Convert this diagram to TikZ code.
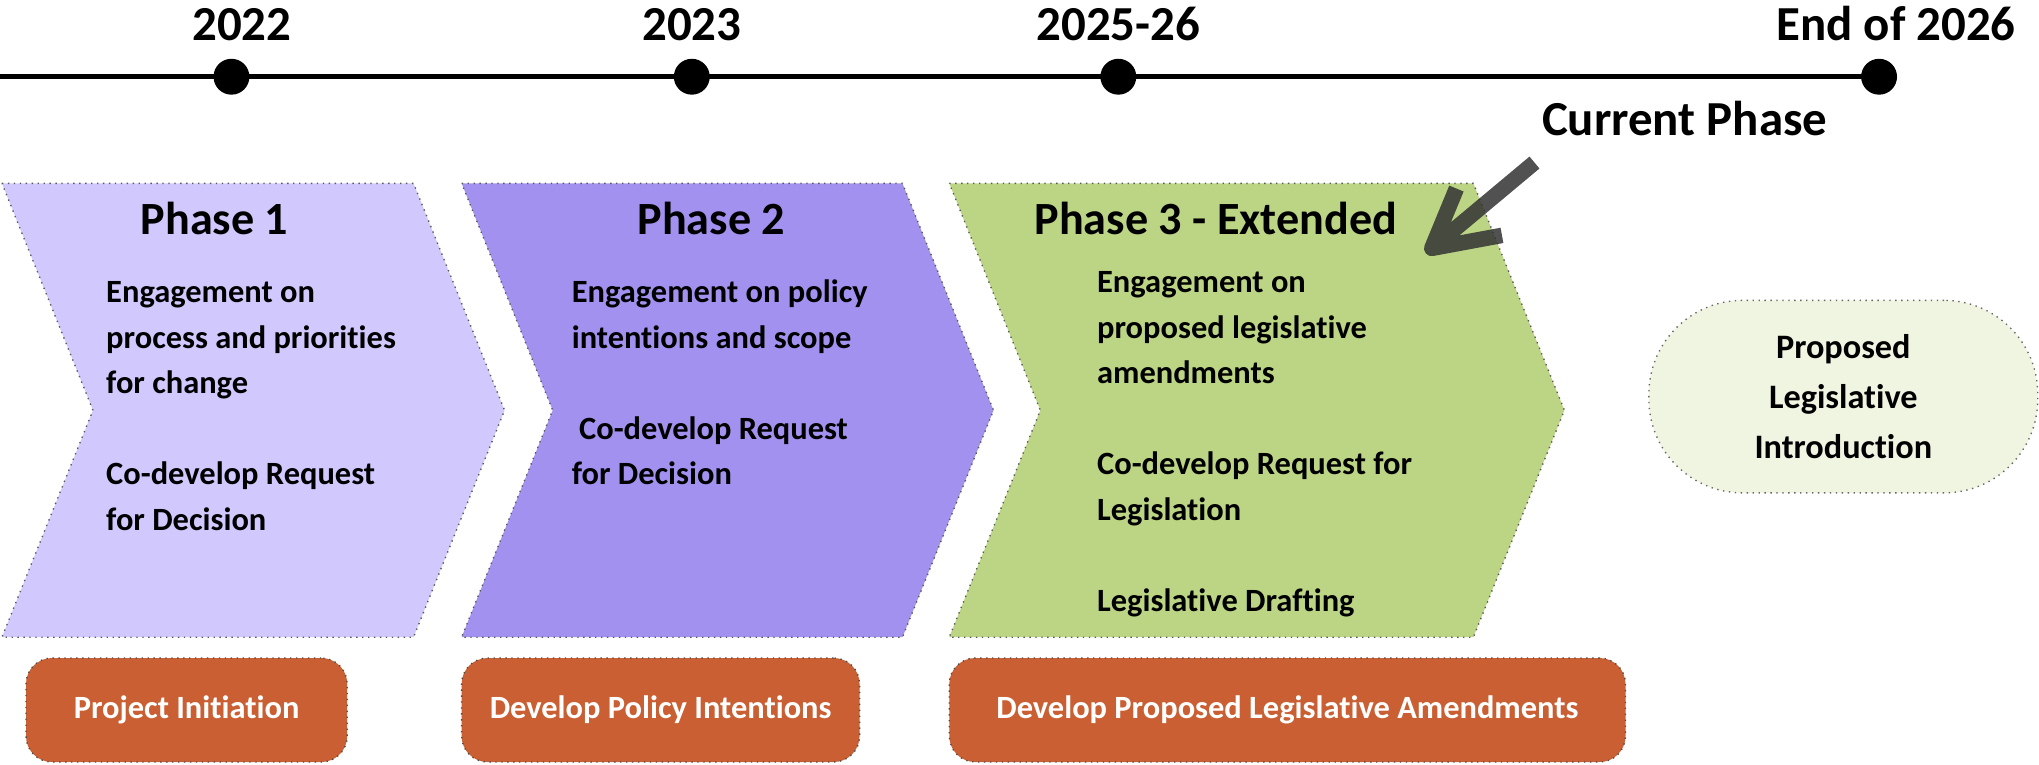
\documentclass[tikz,border=0pt]{standalone}
\usepackage{fontspec}
\setmainfont{Carlito}[Ligatures=NoCommon]
\usepackage{xcolor}
\usepackage{tikz}
\usetikzlibrary{positioning}

\definecolor{phaseA}{RGB}{209,200,254}
\definecolor{phaseB}{RGB}{163,145,239}
\definecolor{phaseC}{RGB}{188,213,133}
\definecolor{stagefill}{RGB}{201,95,50}
\definecolor{goalfill}{RGB}{240,245,225}

\begin{document}
\begin{tikzpicture}[
  yearlbl/.style={font={\fontsize{10.7}{13}\selectfont\bfseries}, anchor=base, inner sep=0},
  phasettl/.style={font={\fontsize{10.1}{12}\selectfont\bfseries}, anchor=base, inner sep=0},
  bodytxt/.style={font={\fontsize{7.1}{9.96}\selectfont\bfseries}, align=left, anchor=north west, inner sep=0},
  chevron/.style={draw=black!65, line width=0.3pt, densely dotted},
  dot/.style={circle, fill=black, inner sep=0, minimum size=0.276cm},
  timeline/.style={line width=1.1pt, black},
  stagebox/.style={draw=black!70, line width=0.3pt, densely dotted, fill=stagefill, rounded corners=0.2cm,
    minimum height=0.8cm, text=white, font={\fontsize{7.1}{9}\selectfont\bfseries}, inner sep=0},
  goal/.style={draw=black!60, line width=0.3pt, densely dotted, fill=goalfill, rounded corners=0.72cm,
    minimum width=2.99cm, minimum height=1.48cm, align=center, font={\fontsize{7.5}{10.9}\selectfont\bfseries}, inner sep=0},
  marker/.style={draw=black!80, opacity=0.85, line width=3.4pt, line cap=butt, line join=round}
]

%---------------- sizes ----------------%
\def\chTop{4.47}    % chevron top
\def\chBot{0.98}    % chevron bottom
\def\chMid{2.725}   % chevron tip / notch height
\def\chDepth{0.70}  % chevron tip depth
\def\lineY{5.29}    % timeline

\useasboundingbox (0,0) rectangle (15.68,5.88);

%---------------- timeline ----------------%
\foreach \x/\n in {1.78/a, 5.32/b, 8.60/c, 14.45/d} {
  \node[dot] (d\n) at (\x,\lineY) {};
}
\coordinate (tl0) at (0,\lineY);
\draw[timeline] (tl0) -- (dd.center);

\node[yearlbl] (ya) at (1.86,5.57) {2022};
\node[yearlbl] (yb) at (5.32,5.57) {2023};
\node[yearlbl] (yc) at (8.60,5.57) {2025-26};
\node[yearlbl] (yd) at (14.58,5.57) {End of 2026};

%---------------- chevrons ----------------%
\foreach \xl/\xr/\col in {0.015/3.18/phaseA, 3.55/6.94/phaseB, 7.30/11.33/phaseC} {
  \draw[chevron, fill=\col] (\xl,\chTop) -- (\xr,\chTop) -- (\xr+\chDepth,\chMid)
    -- (\xr,\chBot) -- (\xl,\chBot) -- (\xl+\chDepth,\chMid) -- cycle;
}

\node[phasettl] (p1) at (1.65,4.08) {Phase 1};
\node[phasettl] (p2) at (5.47,4.08) {Phase 2};
\node[phasettl] (p3) at (9.35,4.08) {Phase 3 - Extended};

\node[bodytxt] (b1) at (0.81,3.805) {\strut Engagement on\\process and priorities\\for change\\[9.96pt]Co-develop Request\\for Decision};
\node[bodytxt] (b2) at (4.39,3.805) {\strut Engagement on policy\\intentions and scope\\[9.96pt]\ Co-develop Request\\for Decision};
\node[bodytxt] (b3) at (8.43,3.88) {\strut Engagement on\\proposed legislative\\amendments\\[9.96pt]Co-develop Request for\\Legislation\\[9.96pt]Legislative Drafting};

%---------------- current phase ----------------%
\node[yearlbl] (cur) at (12.955,4.84) {Current Phase};
\coordinate (arrS) at (11.80,4.63);
\coordinate (arrT) at (11.01,3.97);
\coordinate (arrA) at (11.20,4.43);
\coordinate (arrB) at (11.55,4.07);
\draw[marker] (arrS) -- (arrT) (arrA) -- (arrT) -- (arrB);

%---------------- goal ----------------%
\node[goal] (goalnd) at (14.175,2.83) {Proposed\\Legislative\\Introduction};

%---------------- stages ----------------%
\node[stagebox, minimum width=2.47cm] (s1) at (1.435,0.42) {Project Initiation};
\node[stagebox, minimum width=3.06cm] (s2) at (5.08,0.42) {Develop Policy Intentions};
\node[stagebox, minimum width=5.20cm] (s3) at (9.90,0.42) {Develop Proposed Legislative Amendments};

\end{tikzpicture}
\end{document}
